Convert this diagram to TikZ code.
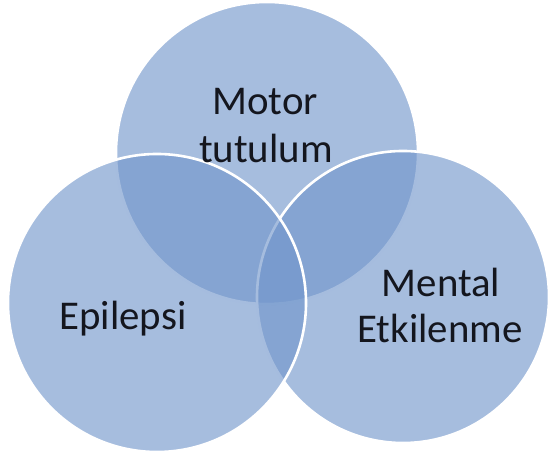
\documentclass[tikz,border=0pt]{standalone}
\usepackage{fontspec}
\setmainfont{Carlito}
\usetikzlibrary{positioning}
\definecolor{vennblue}{RGB}{114,150,203}
\definecolor{venntext}{RGB}{20,22,30}
\tikzstyle{venncircle}=[circle,inner sep=0pt,fill=vennblue,fill opacity=0.63,draw=white,line width=2.6bp]
\tikzstyle{vennlabel}=[text=venntext,inner sep=0pt,anchor=base,font=\fontsize{41}{47}\selectfont]

\begin{document}
\begin{tikzpicture}[x=1bp,y=1bp]
  \useasboundingbox (0,0) rectangle (548,459);
  % circles, the left one on top
  \node[venncircle,minimum size=302bp] (motor) at (267,306) {};
  \node[venncircle,minimum size=292bp] (mental) at (403,162) {};
  \node[venncircle,minimum size=298bp] (epilepsi) at (157,156) {};

  \node[vennlabel] (motorA) at (265,344) {Motor};
  \node[vennlabel] (motorB) at (266,296) {tutulum};
  \node[vennlabel] (epilepsiA) at (123,129) {Epilepsi};
  \node[vennlabel] (mentalA) at (441,162) {Mental};
  \node[vennlabel] (mentalB) at (440,116) {Etkilenme};
\end{tikzpicture}
\end{document}
